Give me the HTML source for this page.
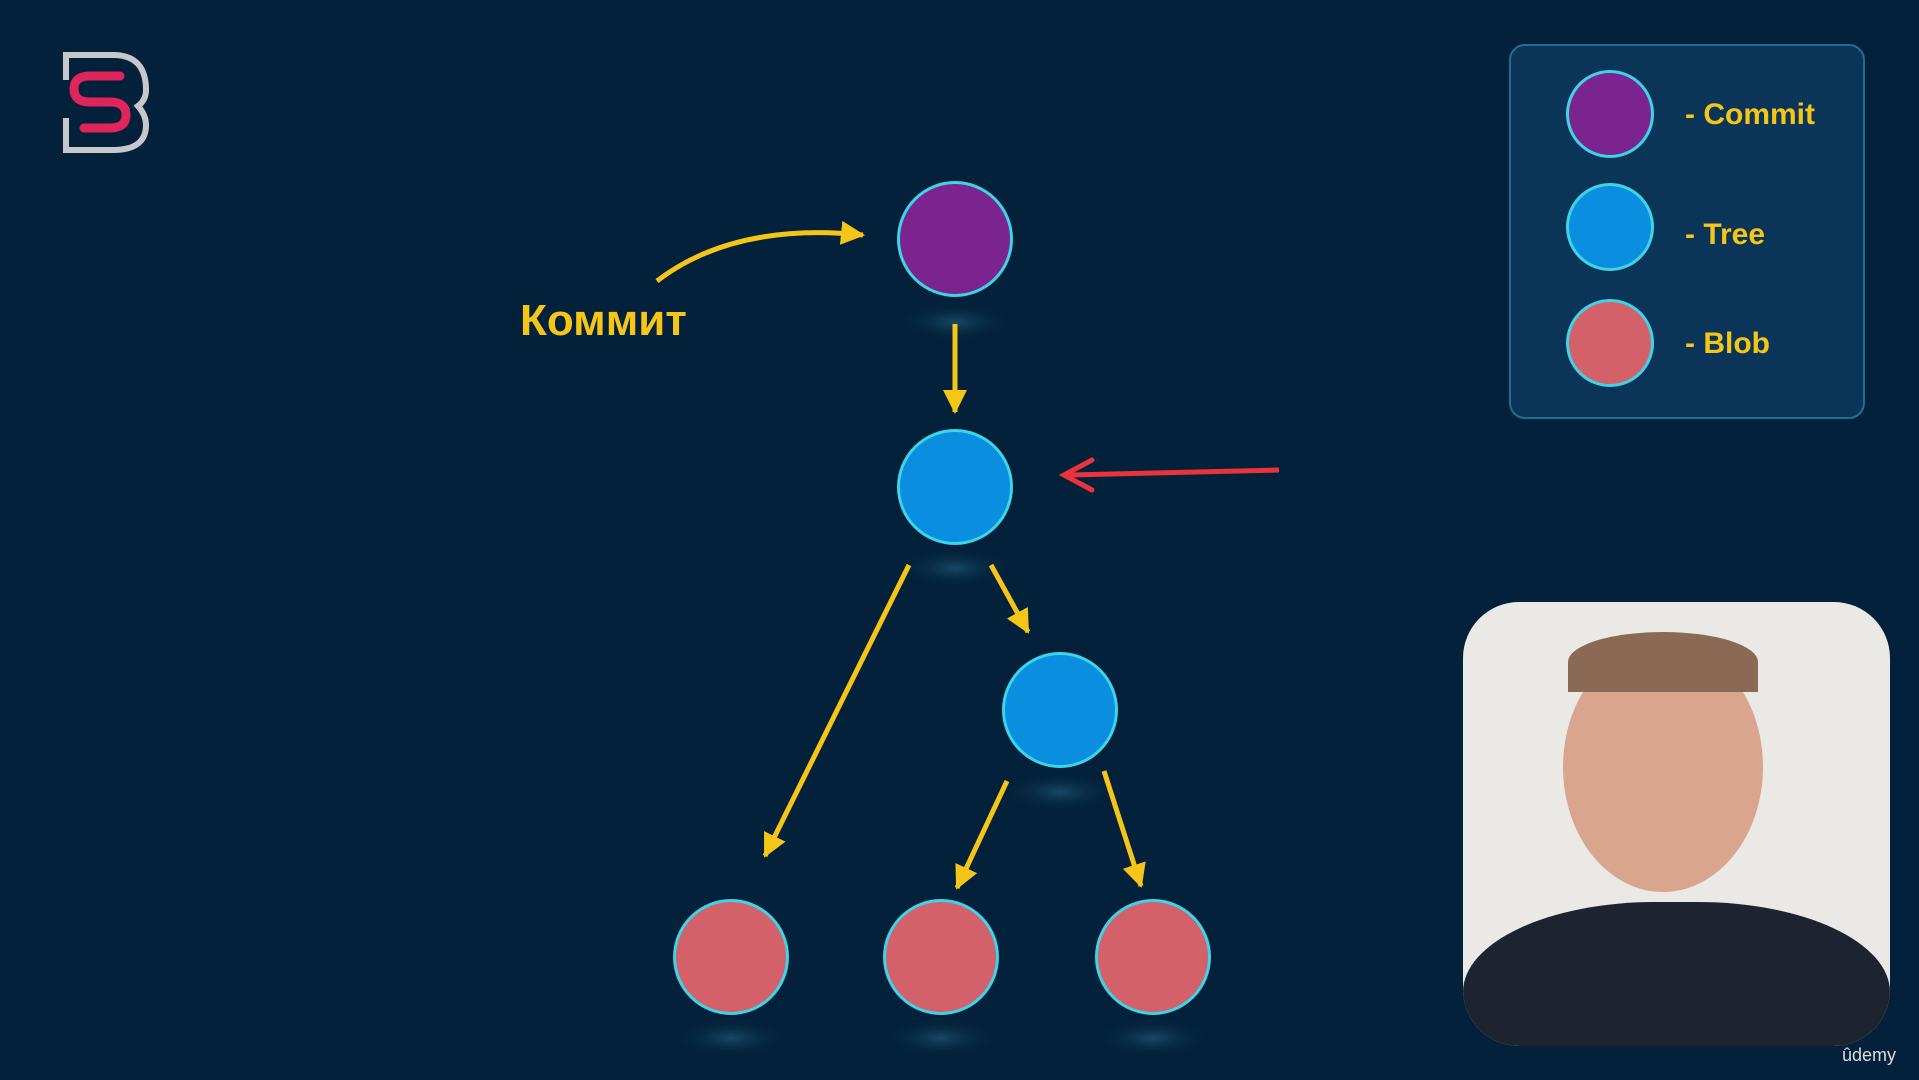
<!DOCTYPE html>
<html><head><meta charset="utf-8"><style>
html,body{margin:0;padding:0;}
body{width:1919px;height:1080px;background:#03213a;position:relative;overflow:hidden;font-family:"Liberation Sans",sans-serif;}
.c{position:absolute;border-radius:50%;border:3px solid #3fd3e6;box-sizing:border-box;}
.t{position:absolute;color:#f5c518;font-weight:bold;}
</style></head><body>
<svg width="1919" height="1080" style="position:absolute;left:0;top:0">
<defs>
<marker id="ay" markerWidth="26" markerHeight="26" refX="22" refY="13" orient="auto" markerUnits="userSpaceOnUse"><path d="M0,1 L24,13 L0,25 z" fill="#f5c518"/></marker>
<radialGradient id="sh"><stop offset="0" stop-color="#1e5370" stop-opacity="0.8"/><stop offset="1" stop-color="#03213a" stop-opacity="0"/></radialGradient>
</defs>
<!-- logo -->
<g fill="none">
<path d="M66,80 V55 H113 Q146,55 146,90 Q146,100 138,106 Q146,115 146,125 Q146,150 113,150 H66 V118" stroke="#c8c8cc" stroke-width="6"/>
<path d="M120,76 H90 Q74,76 74,89 Q74,102 90,102 H110 Q126,102 126,115 Q126,128 110,128 H84" stroke="#e0245c" stroke-width="9" stroke-linecap="round"/>
</g>
<!-- reflections -->
<ellipse cx="955" cy="322" rx="58" ry="20" fill="url(#sh)"/>
<ellipse cx="955" cy="568" rx="58" ry="20" fill="url(#sh)"/>
<ellipse cx="1060" cy="792" rx="58" ry="20" fill="url(#sh)"/>
<ellipse cx="731" cy="1038" rx="58" ry="20" fill="url(#sh)"/>
<ellipse cx="941" cy="1038" rx="58" ry="20" fill="url(#sh)"/>
<ellipse cx="1153" cy="1038" rx="58" ry="20" fill="url(#sh)"/>
<g stroke="#f5c518" stroke-width="5" fill="none" marker-end="url(#ay)">
<path d="M657,281 Q734,222 863,235"/>
<path d="M955,324 L955,412"/>
<path d="M909,565 L765,856"/>
<path d="M991,565 L1028,632"/>
<path d="M1007,781 L957,888"/>
<path d="M1104,771 L1141,886"/>
</g>
<path d="M1279,470 L1070,475" stroke="#e8343a" stroke-width="5" fill="none"/>
<path d="M1092,460 L1064,475 L1092,490" stroke="#e8343a" stroke-width="5" fill="none" stroke-linecap="round"/>
</svg>
<div class="c" style="left:897px;top:181px;width:116px;height:116px;background:#7b2490"></div>
<div class="c" style="left:897px;top:429px;width:116px;height:116px;background:#0a8ee0"></div>
<div class="c" style="left:1002px;top:652px;width:116px;height:116px;background:#0a8ee0"></div>
<div class="c" style="left:673px;top:899px;width:116px;height:116px;background:#d4606a"></div>
<div class="c" style="left:883px;top:899px;width:116px;height:116px;background:#d4606a"></div>
<div class="c" style="left:1095px;top:899px;width:116px;height:116px;background:#d4606a"></div>
<div class="t" style="left:520px;top:296px;font-size:44px;">Коммит</div>
<div style="position:absolute;left:1509px;top:44px;width:356px;height:375px;background:#0b3558;border:2px solid #1f6f90;border-radius:16px;box-sizing:border-box"></div>
<div class="c" style="left:1566px;top:70px;width:88px;height:88px;background:#7b2490"></div>
<div class="c" style="left:1566px;top:183px;width:88px;height:88px;background:#0a8ee0"></div>
<div class="c" style="left:1566px;top:299px;width:88px;height:88px;background:#d4606a"></div>
<div class="t" style="left:1685px;top:98px;font-size:30px;">- Commit</div>
<div class="t" style="left:1685px;top:218px;font-size:30px;">- Tree</div>
<div class="t" style="left:1685px;top:327px;font-size:30px;">- Blob</div>
<div style="position:absolute;left:1463px;top:602px;width:427px;height:444px;border-radius:56px;background:#ebe9e6;overflow:hidden">
<div style="position:absolute;left:100px;top:40px;width:200px;height:250px;border-radius:50%;background:#d9a58e"></div>
<div style="position:absolute;left:105px;top:30px;width:190px;height:60px;border-radius:50% 50% 0 0;background:#8a6a55"></div>
<div style="position:absolute;left:0px;top:300px;width:427px;height:200px;border-radius:45% 45% 0 0;background:#1d2430"></div>
</div>
<div style="position:absolute;left:1842px;top:1045px;color:#ddd;font-size:18px;">ûdemy</div>
</body></html>
